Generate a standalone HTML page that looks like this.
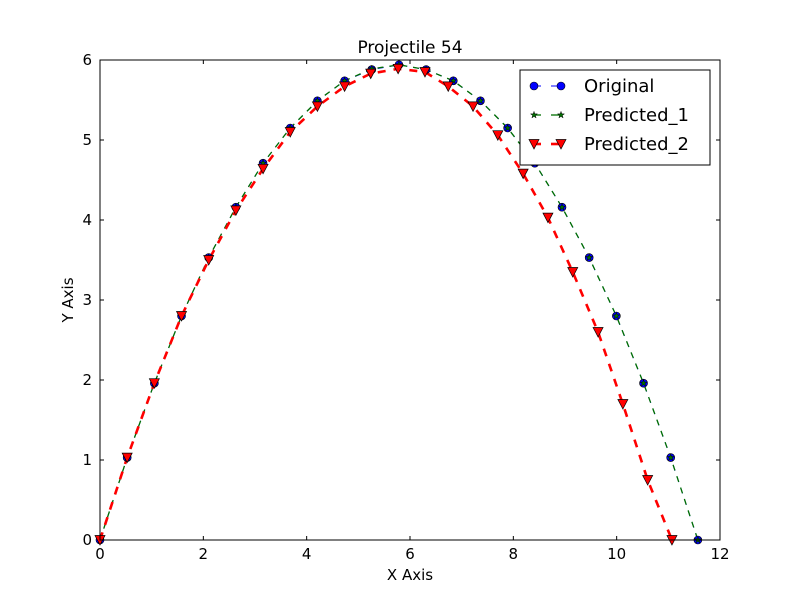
<!DOCTYPE html>
<html><head><meta charset="utf-8"><style>
body{margin:0;background:#fff;}
svg text{font-family:"DejaVu Sans","Liberation Sans",sans-serif;}
</style></head><body>
<svg id="chart" width="800" height="600" xmlns="http://www.w3.org/2000/svg">
<rect width="800" height="600" fill="#fff"/>
<g id="plot"></g>
</svg>
<script>
const xTicks=[0,2,4,6,8,10,12];
const yTicks=[0,1,2,3,4,5,6];
const origX=[0,0.526,1.052,1.578,2.104,2.63,3.156,3.682,4.208,4.734,5.26,5.786,6.312,6.838,7.364,7.89,8.416,8.942,9.468,9.994,10.52,11.046,11.572];
const origY=[0,1.03,1.96,2.8,3.53,4.16,4.71,5.15,5.49,5.74,5.88,5.94,5.88,5.74,5.49,5.15,4.71,4.16,3.53,2.8,1.96,1.03,0];
const pred1X=origX.slice();
const pred1Y=[0,1.03,1.96,2.8,3.53,4.16,4.71,5.15,5.49,5.74,5.89,5.94,5.88,5.74,5.49,5.15,4.71,4.16,3.53,2.8,1.96,1.03,0];
const pred2X=[0,0.526,1.052,1.578,2.104,2.63,3.156,3.682,4.208,4.734,5.24,5.77,6.29,6.74,7.22,7.70,8.19,8.67,9.15,9.64,10.12,10.6,11.07];
const pred2Y=[0,1.03,1.96,2.8,3.5,4.12,4.64,5.1,5.42,5.67,5.83,5.89,5.85,5.67,5.42,5.06,4.58,4.03,3.35,2.6,1.7,0.75,0];
const L=100,R=720,T=60,B=540;
const sx=v=>L+(v-0)/12*(R-L);
const sy=v=>B-(v-0)/6*(B-T);
const NS='http://www.w3.org/2000/svg';
const g=document.getElementById('plot');
function mk(tag,attrs,parent){const e=document.createElementNS(NS,tag);for(const k in attrs)e.setAttribute(k,attrs[k]);(parent||g).appendChild(e);return e;}
function poly(xs,ys){return xs.map((x,i)=>sx(x)+','+sy(ys[i])).join(' ');}
let e;
e=mk('polyline',{points:poly(origX,origY),fill:'none',stroke:'#0000ff','stroke-width':1,'stroke-dasharray':'6,6'});

e=mk('polyline',{points:poly(pred1X,pred1Y),fill:'none',stroke:'#007000','stroke-width':1.3,'stroke-dasharray':'6,6'});

e=mk('polyline',{points:poly(pred2X,pred2Y),fill:'none',stroke:'#ff0000','stroke-width':2.6,'stroke-dasharray':'8,8'});

function circle(cx,cy,p){return mk('circle',{cx:cx,cy:cy,r:4,fill:'#0000ff',stroke:'#000','stroke-width':0.6},p);}
function star(cx,cy,p){let pts=[];for(let i=0;i<10;i++){const r=i%2?1.4:3.6;const a=-Math.PI/2+i*Math.PI/5;pts.push((cx+r*Math.cos(a)).toFixed(1)+','+(cy+r*Math.sin(a)).toFixed(1));}return mk('polygon',{points:pts.join(' '),fill:'#007000',stroke:'#000','stroke-width':0.5},p);}
function tri(cx,cy,p){return mk('polygon',{points:`${cx-5},${cy-4.5} ${cx+5},${cy-4.5} ${cx},${cy+5}`,fill:'#ff0000',stroke:'#000','stroke-width':0.7},p);}
origX.forEach((x,i)=>{const m=circle(sx(x),sy(origY[i]));});
pred1X.forEach((x,i)=>{const m=star(sx(x),sy(pred1Y[i]));});
pred2X.forEach((x,i)=>{const m=tri(sx(x),sy(pred2Y[i]));});
e=mk('rect',{x:L,y:T,width:R-L,height:B-T,fill:'none',stroke:'#000','stroke-width':1});

xTicks.forEach(v=>{const x=sx(v);
 mk('line',{x1:x,y1:B,x2:x,y2:B-4,stroke:'#000'});mk('line',{x1:x,y1:T,x2:x,y2:T+4,stroke:'#000'});
 const t=mk('text',{x:x,y:B+19,'text-anchor':'middle','font-size':15});t.textContent=v;
 });
yTicks.forEach(v=>{const y=sy(v);
 mk('line',{x1:L,y1:y,x2:L+4,y2:y,stroke:'#000'});mk('line',{x1:R,y1:y,x2:R-4,y2:y,stroke:'#000'});
 const t=mk('text',{x:L-8,y:y+5,'text-anchor':'end','font-size':15});t.textContent=v;
 });
e=mk('text',{x:410,y:53,'text-anchor':'middle','font-size':17});e.textContent='Projectile 54';

e=mk('text',{x:410,y:580,'text-anchor':'middle','font-size':15});e.textContent='X Axis';

e=mk('text',{x:73,y:300,'text-anchor':'middle','font-size':15,transform:'rotate(-90 73 300)'});e.textContent='Y Axis';

const lg=mk('g',{});

mk('rect',{x:520,y:70,width:190,height:95,fill:'#fff',stroke:'#000','stroke-width':1},lg);
const entries=[['Original','#0000ff',1,circle],['Predicted_1','#007000',1.3,star],['Predicted_2','#ff0000',2.6,tri]];
entries.forEach((en,i)=>{const y=86+i*29;
 const eg=mk('g',{},lg);
 
 mk('line',{x1:533,y1:y,x2:541,y2:y,stroke:en[1],'stroke-width':en[2]},eg);
 mk('line',{x1:551,y1:y,x2:562,y2:y,stroke:en[1],'stroke-width':en[2]},eg);
 en[3](534,y,eg);en[3](561,y,eg);
 const t=mk('text',{x:584,y:y+6,'font-size':18},eg);t.textContent=en[0];});
</script>
</body></html>
